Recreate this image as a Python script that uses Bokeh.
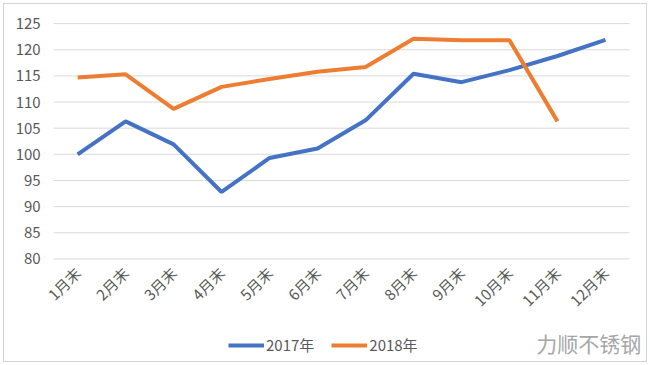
from bokeh.plotting import figure
from bokeh.models import Range1d, Legend, LegendItem, Label, FixedTicker
from bokeh.embed import file_html
from bokeh.resources import INLINE

months = ["1月末", "2月末", "3月末", "4月末", "5月末", "6月末", "7月末", "8月末", "9月末", "10月末", "11月末", "12月末"]
y2017 = [100.0, 106.3, 101.9, 92.8, 99.3, 101.1, 106.5, 115.4, 113.8, 116.1, 118.8, 121.9]
y2018 = [114.7, 115.3, 108.7, 112.9, 114.4, 115.8, 116.7, 122.1, 121.8, 121.8, 106.3]
y_ticks = [80, 85, 90, 95, 100, 105, 110, 115, 120, 125]

x_pos = list(range(1, len(months) + 1))          # category positions 1..12
x2017 = x_pos[:len(y2017)]
x2018 = x_pos[:len(y2018)]

FONT = "Noto Sans CJK SC"

p = figure(width=644, height=359, x_range=Range1d(-0.5035, 12.876), y_range=Range1d(60, 128.46),
           output_backend="svg", toolbar_location=None,
           min_border_left=1, min_border_right=1, min_border_top=1, min_border_bottom=0)
p.styles = {"border": "1px solid #d4d4d4", "box-sizing": "border-box", "margin": "3px 0 0 3px"}
p.outline_line_color = None
p.xgrid.grid_line_color = None
p.ygrid.grid_line_color = None

# horizontal grid lines spanning only the category area
p.segment(x0=x_pos[0] - 0.5, x1=x_pos[-1] + 0.5, y0=y_ticks, y1=y_ticks,
          line_color="#d9d9d9", line_width=1)

p.yaxis.ticker = FixedTicker(ticks=y_ticks)
p.yaxis.fixed_location = x_pos[0] - 0.5
p.xaxis.ticker = FixedTicker(ticks=x_pos)
p.xaxis.major_label_overrides = {x: m for x, m in zip(x_pos, months)}
p.xaxis.fixed_location = y_ticks[0]

for ax in (p.xaxis, p.yaxis):
    ax.axis_line_color = None
    ax.major_tick_line_color = None
    ax.minor_tick_line_color = None
    ax.major_label_text_font = FONT
    ax.major_label_text_color = "#595959"
    ax.major_label_text_font_size = "15px"
p.xaxis.major_label_orientation = 0.785
p.xaxis.major_label_standoff = 5
p.yaxis.major_label_standoff = 7

r1 = p.line(x2017, y2017, line_color="#4472C4", line_width=4)
r2 = p.line(x2018, y2018, line_color="#ED7D31", line_width=4)

legend = Legend(items=[LegendItem(label="2017年", renderers=[r1]),
                       LegendItem(label="2018年", renderers=[r2])],
                orientation="horizontal", location=(223, 8), padding=4,
                label_text_font=FONT, label_text_color="#595959", label_text_font_size="15px",
                glyph_width=36, label_standoff=2, spacing=17,
                border_line_color=None, background_fill_alpha=0)
p.add_layout(legend, "center")

wm = Label(x=10.56, y=61.0, text="力顺不锈钢",
           text_font=FONT, text_font_size="21px", text_color="#a6a6a6")
p.add_layout(wm)

open("out.html", "w").write(file_html(p, INLINE))
